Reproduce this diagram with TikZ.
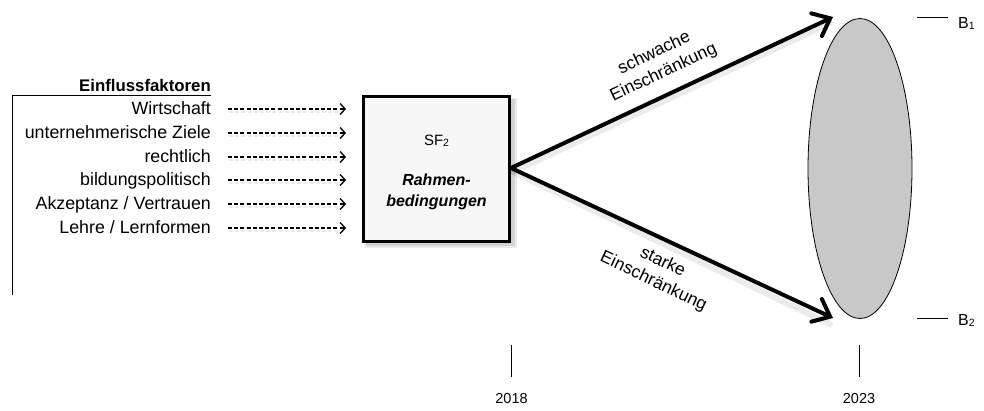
\documentclass[tikz,border=0pt]{standalone}
\usepackage{fontspec}
\setmainfont{Liberation Sans}
\usetikzlibrary{arrows.meta,shapes.geometric}

\definecolor{boxfill}{HTML}{F7F7F7}
\definecolor{ellfill}{HTML}{C8C8C8}
\newcommand{\subnum}[1]{{\fontsize{10.5}{10.5}\selectfont\raisebox{-1.5pt}{#1}}}

\tikzset{
  factor/.style={anchor=base east, font=\fontsize{17.8}{19}\selectfont, inner sep=0pt},
  heading/.style={anchor=base east, font=\fontsize{16.8}{18}\selectfont\bfseries, inner sep=0pt},
  influence/.style={draw=black, line width=1.3pt, dash pattern=on 4pt off 2.2pt,
    -{Straight Barb[length=5pt, width=11pt, line width=1.3pt]}},
  influenceshadow/.style={draw=black!25, line width=2pt, opacity=0.35, dash pattern=on 4pt off 2.2pt},
  frame/.style={draw=black, line width=3pt, fill=boxfill, minimum width=146pt,
    minimum height=145pt, inner sep=0pt},
  scenario/.style={draw=black, line width=4pt, line cap=round,
    -{Straight Barb[length=15pt, width=25pt, line width=4pt, line cap=round]}},
  scenarioshadow/.style={draw=black, line width=6pt, opacity=0.08, line cap=round},
  arrowlabel/.style={align=center, font=\fontsize{17.5}{21.5}\selectfont, inner sep=0pt},
  tick/.style={draw=black, line width=1pt},
  yearlabel/.style={anchor=base, font=\fontsize{14.5}{16}\selectfont, inner sep=0pt},
  blabel/.style={anchor=base west, font=\fontsize{16}{17}\selectfont, inner sep=0pt}
}

\begin{document}
\begin{tikzpicture}[x=1pt, y=-1pt]
\useasboundingbox (0,0) rectangle (984,410);

% list of influencing factors
\node[heading] (head) at (211,91) {Einflussfaktoren};
\coordinate (bracketTL) at (12,95);
\coordinate (bracketTR) at (211,95);
\coordinate (bracketBL) at (12,295);
\draw[line width=1pt] (bracketBL) -- (bracketTL) -- (bracketTR);

\node[factor] (f1) at (211,114) {Wirtschaft};
\node[factor] (f2) at (211,138) {unternehmerische Ziele};
\node[factor] (f3) at (211,162) {rechtlich};
\node[factor] (f4) at (211,185) {bildungspolitisch};
\node[factor] (f5) at (211,209) {Akzeptanz / Vertrauen};
\node[factor] (f6) at (211,233) {Lehre / Lernformen};

% central box with a soft shadow
\fill[black, opacity=0.10] (366,99) rectangle (515,246);
\fill[black, opacity=0.08] (365,98) rectangle (517,248);
\node[frame] (box) at (436.5,168.5) {};
\node[anchor=base, font=\fontsize{15}{16}\selectfont, inner sep=0pt] (sf) at (436.5,145) {SF\subnum{2}};
\node[anchor=base, align=center, font=\fontsize{16}{20.5}\selectfont\bfseries\itshape, inner sep=0pt]
  (rb) at (436.5,206) {Rahmen-\\bedingungen};

% dashed arrows into the box
\foreach \i/\yy in {1/109,2/133,3/157,4/180,5/204,6/228} {
  \coordinate (s\i) at (228,\yy);
  \coordinate (e\i) at (346,\yy);
  \draw[influenceshadow] (229,\yy+3) -- (344,\yy+3);
  \draw[influence] (s\i) -- (e\i);
}

% scenario funnel
\coordinate (start) at (511,168);
\coordinate (tipB1) at (833,17);
\coordinate (tipB2) at (833,318);
\node[draw=black, line width=0.8pt, fill=ellfill, ellipse, minimum width=104pt,
  minimum height=300pt, inner sep=0pt] (funnel) at (860,168.5) {};

\draw[scenarioshadow] (513,172) -- (830,23);
\draw[scenarioshadow] (513,172) -- (830,324);
\draw[scenario] (start) -- (tipB1);
\draw[scenario] (start) -- (tipB2);

\node[arrowlabel, rotate=25.4] (weak) at (659,63) {schwache\\Einschränkung};
\node[arrowlabel, rotate=-25.4] (strong) at (658,272) {starke\\Einschränkung};

% outcome markers
\coordinate (b1a) at (917,17);
\coordinate (b1b) at (948,17);
\draw[line width=1pt] (b1a) -- (b1b);
\node[blabel] (B1) at (958,28) {B\subnum{1}};
\coordinate (b2a) at (917,318);
\coordinate (b2b) at (948,318);
\draw[line width=1pt] (b2a) -- (b2b);
\node[blabel] (B2) at (958,325) {B\subnum{2}};

% time axis marks
\coordinate (t1a) at (511.5,345);
\coordinate (t1b) at (511.5,377);
\draw[tick] (t1a) -- (t1b);
\node[yearlabel] (y1) at (511.5,403) {2018};
\coordinate (t2a) at (859,345);
\coordinate (t2b) at (859,377);
\draw[tick] (t2a) -- (t2b);
\node[yearlabel] (y2) at (859,403) {2023};
\end{tikzpicture}
\end{document}
